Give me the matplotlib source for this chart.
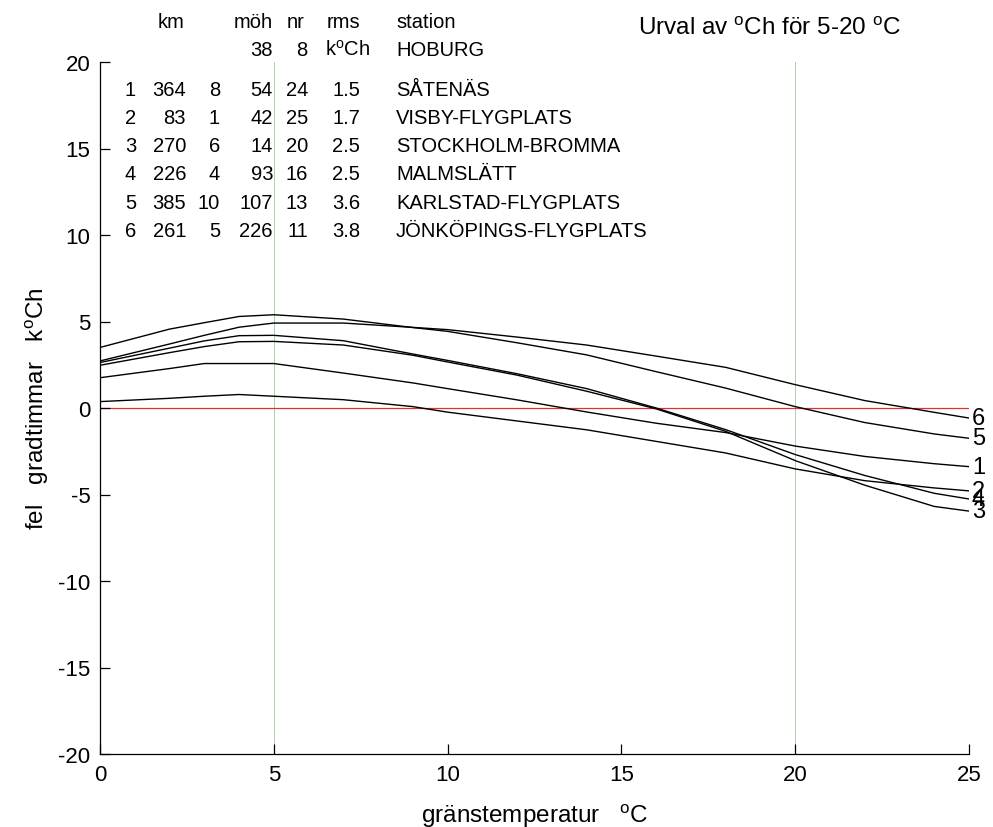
import matplotlib
matplotlib.use("Agg")
import matplotlib.pyplot as plt

plt.rcParams['font.family'] = ['Liberation Sans', 'DejaVu Sans']
plt.rcParams['mathtext.fontset'] = 'custom'
plt.rcParams['mathtext.rm'] = 'Liberation Sans'
plt.rcParams['mathtext.it'] = 'Liberation Sans:italic'
plt.rcParams['axes.unicode_minus'] = False

# ---- data ----
X = [0, 2, 3, 4, 5, 7, 9, 10, 12, 14, 16, 18, 20, 22, 24, 25]
s1 = [1.75, 2.28, 2.57, 2.57, 2.57, 2.02, 1.45, 1.12, 0.47, -0.23, -0.88, -1.42, -2.2, -2.8, -3.22, -3.39]
s2 = [0.37, 0.56, 0.68, 0.78, 0.68, 0.48, 0.08, -0.24, -0.75, -1.26, -1.93, -2.6, -3.52, -4.2, -4.62, -4.79]
s3 = [2.47, 3.2, 3.55, 3.83, 3.85, 3.64, 3.05, 2.66, 1.9, 0.97, -0.05, -1.35, -3.04, -4.46, -5.69, -5.96]
s4 = [2.63, 3.46, 3.88, 4.18, 4.20, 3.89, 3.12, 2.75, 1.98, 1.12, 0.0, -1.25, -2.69, -3.9, -4.93, -5.26]
s5 = [3.50, 4.56, 4.93, 5.29, 5.39, 5.14, 4.65, 4.43, 3.77, 3.07, 2.1, 1.15, 0.08, -0.84, -1.5, -1.75]
s6 = [2.72, 3.7, 4.2, 4.67, 4.91, 4.91, 4.66, 4.53, 4.1, 3.64, 3.0, 2.35, 1.35, 0.43, -0.25, -0.58]
series = [s1, s2, s3, s4, s5, s6]
series_labels = ['1', '2', '3', '4', '5', '6']

idx = [1, 2, 3, 4, 5, 6]
km = [364, 83, 270, 226, 385, 261]
col3 = [8, 1, 6, 4, 10, 5]
moh = [54, 42, 14, 93, 107, 226]
nr = [24, 25, 20, 16, 13, 11]
rms = [1.5, 1.7, 2.5, 2.5, 3.6, 3.8]
stations = ['SÅTENÄS', 'VISBY-FLYGPLATS', 'STOCKHOLM-BROMMA', 'MALMSLÄTT',
            'KARLSTAD-FLYGPLATS', 'JÖNKÖPINGS-FLYGPLATS']
ref_station = 'HOBURG'
ref_moh = 38
ref_nr = 8

xticks = [0, 5, 10, 15, 20, 25]
yticks = [-20, -15, -10, -5, 0, 5, 10, 15, 20]
vlines = [5, 20]

# ---- figure ----
W, H = 993, 828
fig = plt.figure(figsize=(W / 100, H / 100), dpi=100)
ax = fig.add_axes([100 / W, 1 - 755 / H, 869 / W, 692 / H])

ax.set_xlim(0, 25)
ax.set_ylim(-20, 20)

for xv in vlines:
    ax.axvline(xv, color='#9ec89e', lw=0.6, zorder=1)
ax.axhline(0, color='#e03030', lw=0.9, zorder=1)

for s, lab in zip(series, series_labels):
    ax.plot(X, s, color='black', lw=1.0, zorder=3)
    ax.text(X[-1] + 0.08, s[-1], lab, fontsize=17, ha='left', va='center',
            clip_on=False)

for sp in ['top', 'right']:
    ax.spines[sp].set_visible(False)
for sp in ['left', 'bottom']:
    ax.spines[sp].set_linewidth(0.9)

ax.set_xticks(xticks)
ax.set_yticks(yticks)
ax.tick_params(direction='in', length=7, width=0.9, labelsize=16, pad=7)

ax.set_xlabel('gränstemperatur   $^{\\rm o}$C', fontsize=17.5, labelpad=12)
ax.set_ylabel('fel   gradtimmar   k$^{\\rm o}$Ch', fontsize=17.5, labelpad=5)


def P(px, py):
    return px / W, 1 - py / H


tfs = 14.5
# title
fig.text(*P(638, 35), 'Urval av $^{\\rm o}$Ch för 5-20 $^{\\rm o}$C', fontsize=17.5,
         ha='left', va='baseline')

# table headers
fig.text(*P(171, 22), 'km', fontsize=tfs, ha='center', va='center')
fig.text(*P(273, 22), 'möh', fontsize=tfs, ha='right', va='center')
fig.text(*P(296, 22), 'nr', fontsize=tfs, ha='center', va='center')
fig.text(*P(343, 22), 'rms', fontsize=tfs, ha='center', va='center')
fig.text(*P(396, 22), 'station', fontsize=tfs, ha='left', va='center')
# reference row
fig.text(*P(273, 50), str(ref_moh), fontsize=tfs, ha='right', va='center')
fig.text(*P(307, 50), str(ref_nr), fontsize=tfs, ha='right', va='center')
fig.text(*P(325, 50), 'k$^{\\rm o}$Ch', fontsize=tfs, ha='left', va='center')
fig.text(*P(396, 50), ref_station, fontsize=tfs, ha='left', va='center')

row_y0, row_dy = 90, 28.3
for i in range(len(idx)):
    py = row_y0 + i * row_dy
    fig.text(*P(136, py), str(idx[i]), fontsize=tfs, ha='right', va='center')
    fig.text(*P(186, py), str(km[i]), fontsize=tfs, ha='right', va='center')
    fig.text(*P(220, py), str(col3[i]), fontsize=tfs, ha='right', va='center')
    fig.text(*P(273, py), str(moh[i]), fontsize=tfs, ha='right', va='center')
    fig.text(*P(308, py), str(nr[i]), fontsize=tfs, ha='right', va='center')
    fig.text(*P(360, py), f'{rms[i]:.1f}', fontsize=tfs, ha='right', va='center')
    fig.text(*P(396, py), stations[i], fontsize=tfs, ha='left', va='center')

fig.savefig('out.png', dpi=100, facecolor='white')
